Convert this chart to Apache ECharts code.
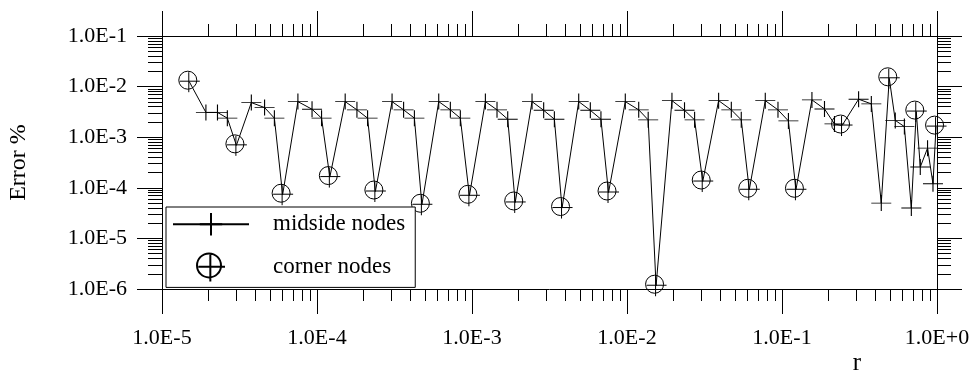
<!DOCTYPE html>
<html><head><meta charset="utf-8">
<script src="https://cdn.jsdelivr.net/npm/echarts@6/dist/echarts.min.js"></script>
<style>html,body{margin:0;padding:0;background:#fff}#c{width:977px;height:374px}</style>
</head><body><div id="c"></div>
<script>
// ---- data ----
const midR = [1.92e-5, 2.28e-5, 2.64e-5,
  3.77e-5, 4.59e-5, 5.31e-5,
  7.53e-5, 9.29e-5, 1.07e-4,
  1.52e-4, 1.81e-4, 2.12e-4,
  3.05e-4, 3.62e-4, 4.25e-4,
  6.10e-4, 7.25e-4, 8.41e-4,
  1.22e-3, 1.45e-3, 1.70e-3,
  2.44e-3, 2.90e-3, 3.40e-3,
  4.88e-3, 5.80e-3, 6.79e-3,
  9.75e-3, 1.19e-2, 1.37e-2,
  1.95e-2, 2.35e-2, 2.73e-2,
  3.90e-2, 4.71e-2, 5.46e-2,
  7.80e-2, 9.42e-2, 0.110,
  0.156, 0.188, 0.218,
  0.312, 0.377, 0.437, 0.538, 0.616, 0.683, 0.780, 0.869, 0.942];
const midErr = [3.09e-3, 3.09e-3, 2.38e-3,
  4.83e-3, 3.85e-3, 2.38e-3,
  5.05e-3, 3.57e-3, 2.38e-3,
  5.05e-3, 3.47e-3, 2.38e-3,
  5.05e-3, 3.47e-3, 2.38e-3,
  5.05e-3, 3.47e-3, 2.38e-3,
  5.05e-3, 3.47e-3, 2.27e-3,
  5.05e-3, 3.40e-3, 2.27e-3,
  5.05e-3, 3.40e-3, 2.27e-3,
  5.05e-3, 3.47e-3, 2.20e-3,
  5.28e-3, 3.40e-3, 2.20e-3,
  5.28e-3, 3.47e-3, 2.20e-3,
  5.28e-3, 3.47e-3, 2.10e-3,
  5.46e-3, 3.62e-3, 1.83e-3,
  5.64e-3, 4.55e-3, 4.99e-5, 2.15e-3, 1.62e-3, 3.98e-5, 2.57e-4, 6.08e-4, 1.20e-4];
const cornerR = [1.50e-5, 3.02e-5, 6.0e-5, 1.21e-4, 2.38e-4, 4.75e-4, 9.62e-4, 1.90e-3, 3.81e-3,
  7.60e-3, 1.54e-2, 3.08e-2, 6.15e-2, 0.123, 0.244, 0.492, 0.735, 0.986];
const cornerErr = [1.25e-2, 6.9e-4, 7.3e-5, 1.63e-4, 8.45e-5, 4.62e-5, 6.95e-5, 5.13e-5, 3.98e-5,
  8.07e-5, 1.16e-6, 1.33e-4, 9.14e-5, 9.14e-5, 1.70e-3, 1.46e-2, 3.21e-3, 1.62e-3];

const xMajor = [1e-5, 1e-4, 1e-3, 1e-2, 1e-1, 1];
const xTickLabels = ['1.0E-5', '1.0E-4', '1.0E-3', '1.0E-2', '1.0E-1', '1.0E+0'];
const yMajor = [1e-6, 1e-5, 1e-4, 1e-3, 1e-2, 1e-1];
const yTickLabels = ['1.0E-6', '1.0E-5', '1.0E-4', '1.0E-3', '1.0E-2', '1.0E-1'];
const minorMultipliers = [2, 3, 4, 5, 6, 7, 8, 9];
const xTitle = 'r';
const yTitle = 'Error %';
const seriesNames = ['midside nodes', 'corner nodes'];

// ---- helpers ----
const FONT = 'Liberation Serif';
const lg = Math.log10;
function minors(majors) {
  const out = [];
  for (let i = 0; i < majors.length - 1; i++)
    for (const m of minorMultipliers) out.push(lg(majors[i] * m));
  return out;
}
const xMajLog = xMajor.map(lg), yMajLog = yMajor.map(lg);
const xMinLog = minors(xMajor), yMinLog = minors(yMajor);

// merged sequence (sorted by r) for the connecting line
const pts = [];
midR.forEach((r, i) => pts.push({ r, e: midErr[i], corner: false }));
cornerR.forEach((r, i) => pts.push({ r, e: cornerErr[i], corner: true }));
pts.sort((a, b) => a.r - b.r);

const PLUS = 'path://M0 8 L20 8 M10 0 L10 16';
const OPLUS = 'path://M2 11 A9 9 0 1 1 20 11 A9 9 0 1 1 2 11 Z M3 12 L23 12 M12 3 L12 23';

const black = '#000';
const tickLine = { color: black, width: 1 };
function helperX(pos, maj, showLine, withLabels) {
  return {
    type: 'value', position: pos, min: xMajLog[0], max: xMajLog[xMajLog.length - 1],
    axisLine: { show: showLine, onZero: false, lineStyle: tickLine },
    axisTick: { show: true, inside: false, customValues: maj ? xMajLog : xMinLog, length: maj ? 25 : 12, lineStyle: tickLine },
    axisLabel: withLabels ? {
      show: true, customValues: xMajLog, margin: 38, color: black, fontFamily: FONT, fontSize: 22,
      formatter: v => xTickLabels[Math.round(v - xMajLog[0])]
    } : { show: false },
    splitLine: { show: false }, minorTick: { show: false }
  };
}
function helperY(pos, maj, showLine, withLabels) {
  return {
    type: 'value', position: pos, min: yMajLog[0], max: yMajLog[yMajLog.length - 1],
    axisLine: { show: showLine, onZero: false, lineStyle: tickLine },
    axisTick: { show: true, inside: false, customValues: maj ? yMajLog : yMinLog, length: maj ? 25 : 14, lineStyle: tickLine },
    axisLabel: withLabels ? {
      show: true, customValues: yMajLog, margin: 35, color: black, fontFamily: FONT, fontSize: 22,
      formatter: v => yTickLabels[Math.round(v - yMajLog[0])]
    } : { show: false },
    splitLine: { show: false }, minorTick: { show: false }
  };
}

const xBottom = helperX('bottom', true, true, true);
xBottom.name = xTitle;
xBottom.nameLocation = 'end';
xBottom.nameGap = -80;
xBottom.nameTextStyle = { fontFamily: FONT, fontSize: 25, color: black, align: 'center', verticalAlign: 'top', padding: [62, 0, 0, 0] };
const yLeft = helperY('left', true, true, true);
yLeft.name = yTitle;
yLeft.nameLocation = 'middle';
yLeft.nameGap = 131;
yLeft.nameTextStyle = { fontFamily: FONT, fontSize: 24, color: black };

const chart = echarts.init(document.getElementById('c'), null, { renderer: 'canvas' });
chart.setOption({
  animation: false,
  backgroundColor: '#fff',
  grid: { left: 162, right: 40, top: 36, bottom: 85, outerBoundsMode: 'none', containLabel: false },
  legend: {
    orient: 'vertical', left: 166, top: 207,
    data: seriesNames,
    itemWidth: 76, itemHeight: 28, itemGap: 16,
    padding: [5, 10, 5, 6],
    borderColor: black, borderWidth: 1, backgroundColor: '#fff',
    selectedMode: false,
    textStyle: { fontFamily: FONT, fontSize: 23, color: black, padding: [0, 0, 0, 19] }
  },
  xAxis: [
    { type: 'log', logBase: 10, min: xMajor[0], max: xMajor[xMajor.length - 1], show: false },
    xBottom,
    helperX('bottom', false, false, false),
    helperX('top', true, true, false),
    helperX('top', false, false, false)
  ],
  yAxis: [
    { type: 'log', logBase: 10, min: yMajor[0], max: yMajor[yMajor.length - 1], show: false },
    yLeft,
    helperY('left', false, false, false),
    helperY('right', true, true, false),
    helperY('right', false, false, false)
  ],
  series: [
    {
      name: seriesNames[0], type: 'line', xAxisIndex: 0, yAxisIndex: 0,
      data: pts.map(p => p.corner ? { value: [p.r, p.e], symbol: 'none' } : { value: [p.r, p.e] }),
      symbol: PLUS, symbolSize: [20, 16], showSymbol: true, showAllSymbol: true,
      itemStyle: { color: 'transparent', borderColor: black, borderWidth: 1 },
      lineStyle: { color: black, width: 1 },
      emphasis: { disabled: true }, silent: true, clip: false, z: 2
    },
    {
      name: seriesNames[1], type: 'scatter', xAxisIndex: 0, yAxisIndex: 0,
      data: cornerR.map((r, i) => [r, cornerErr[i]]),
      symbol: OPLUS, symbolSize: 21,
      itemStyle: { color: 'transparent', borderColor: black, borderWidth: 1, opacity: 1 },
      emphasis: { disabled: true }, silent: true, clip: false, z: 3
    }
  ]
});
</script></body></html>
